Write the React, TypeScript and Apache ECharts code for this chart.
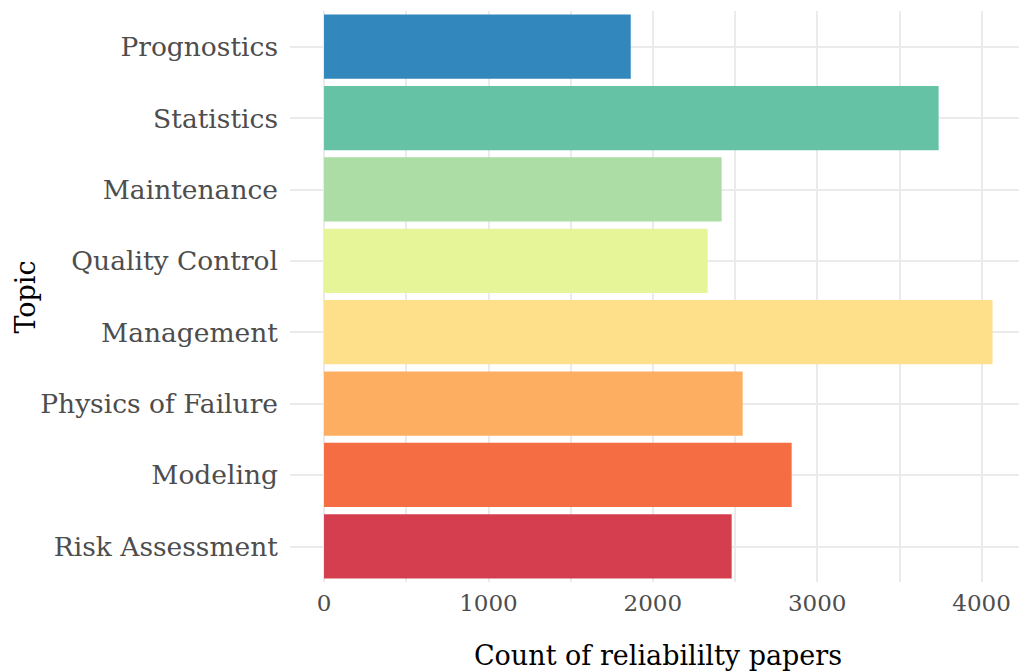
import React, { useEffect, useRef } from "react";
import * as echarts from "echarts";

const categories = [
  "Risk Assessment",
  "Modeling",
  "Physics of Failure",
  "Management",
  "Quality Control",
  "Maintenance",
  "Statistics",
  "Prognostics",
];
const counts = [2480, 2845, 2547, 4067, 2334, 2419, 3739, 1866];
const colors = ["#D53E4F", "#F46D43", "#FDAE61", "#FEE08B", "#E6F598", "#ABDDA4", "#66C2A5", "#3288BD"];
const minorTicks = [0, 500, 1000, 1500, 2000, 2500, 3000, 3500, 4000];
const majorTicks = [0, 1000, 2000, 3000, 4000];

const FONT = "DejaVu Serif";

export default function App() {
  const ref = useRef<HTMLDivElement>(null);
  useEffect(() => {
    const chart = echarts.init(ref.current!, null, { renderer: "svg" });
    chart.setOption({
      animation: false,
      backgroundColor: "#ffffff",
      textStyle: { fontFamily: FONT },
      grid: { left: 290, right: 0, top: 11, bottom: 90, containLabel: false, outerBoundsMode: "none" },
      xAxis: {
        type: "value",
        min: -207,
        max: 4228,
        axisLine: { show: false },
        axisTick: { show: false, customValues: minorTicks },
        axisLabel: {
          customValues: majorTicks,
          formatter: (v: number) => String(v),
          color: "#4d4d4d",
          fontFamily: FONT,
          fontSize: 23,
          margin: 9,
          hideOverlap: false,
        },
        splitLine: { show: true, lineStyle: { color: "#ebebeb", width: 2 } },
      },
      yAxis: {
        type: "category",
        data: categories,
        axisLine: { show: false },
        axisTick: { show: false, alignWithLabel: true },
        axisLabel: { color: "#4d4d4d", fontFamily: FONT, fontSize: 26.5, margin: 12 },
        splitLine: { show: true, alignWithLabel: true, lineStyle: { color: "#ebebeb", width: 2 } },
      },
      graphic: [
        {
          type: "text",
          x: 658,
          y: 655,
          style: {
            text: "Count of reliabililty papers",
            fontFamily: FONT,
            fontSize: 27,
            fill: "#000",
            align: "center",
            verticalAlign: "middle",
          },
        },
        {
          type: "text",
          x: 25,
          y: 297,
          rotation: Math.PI / 2,
          style: {
            text: "Topic",
            fontFamily: FONT,
            fontSize: 27,
            fill: "#000",
            align: "center",
            verticalAlign: "middle",
          },
        },
      ],
      series: [
        {
          type: "bar",
          data: counts.map((v, i) => ({ value: v, itemStyle: { color: colors[i] } })),
          barCategoryGap: "10%",
          z: 2,
        },
      ],
    });
    return () => chart.dispose();
  }, []);
  return (
    <div
      ref={ref}
      style={{ position: "absolute", left: 0, top: 0, width: 1019, height: 672 }}
    />
  );
}
